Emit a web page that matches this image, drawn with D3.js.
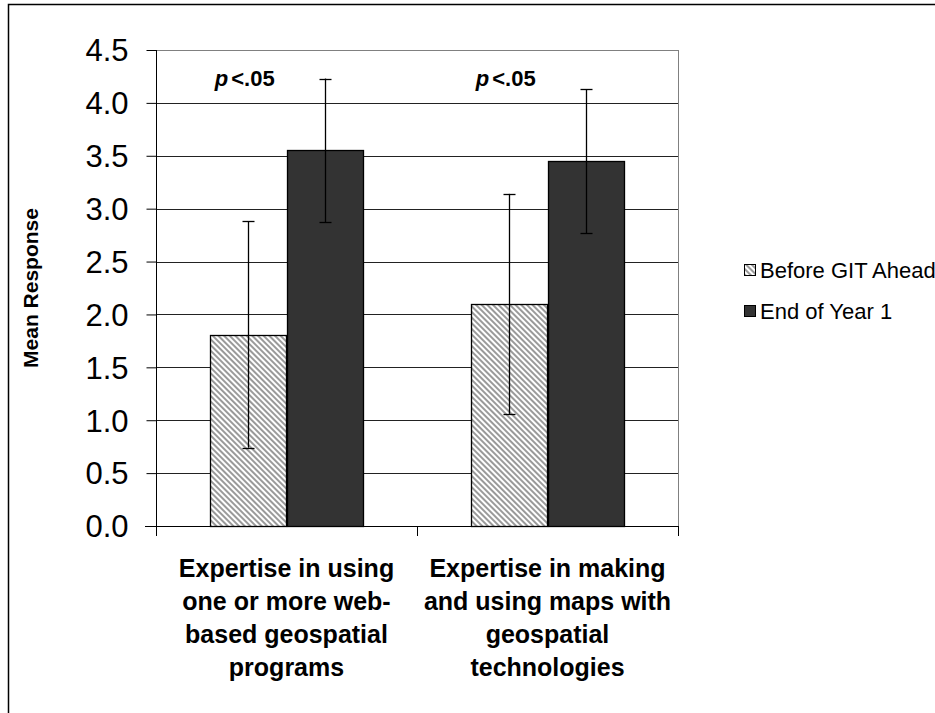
<!DOCTYPE html>
<html>
<head>
<meta charset="utf-8">
<script src="https://cdn.jsdelivr.net/npm/d3@7"></script>
<style>
body { margin: 0; background: #fff; }
svg { display: block; font-family: "Liberation Sans", Arial, sans-serif; }
</style>
</head>
<body>
<div id="chart"></div>
<script>
// data
var categories = [
	["Expertise in using", "one or more web-", "based geospatial", "programs"],
	["Expertise in making", "and using maps with", "geospatial", "technologies"]
];
var seriesNames = ["Before GIT Ahead", "End of Year 1"];
var beforeValues = [1.81, 2.10];
var endValues = [3.55, 3.45];
var beforeErrors = [1.07, 1.04];
var endErrors = [0.68, 0.68];
var yTicks = [0, 0.5, 1.0, 1.5, 2.0, 2.5, 3.0, 3.5, 4.0, 4.5];
var sigLabels = ["<.05", "<.05"];

var width = 935, height = 713;
var plot = { left: 156, right: 678, top: 50, bottom: 526 };

var svg = d3.select("#chart").append("svg")
	.attr("width", width)
	.attr("height", height);

// hatch for the first series
var defs = svg.append("defs");
var pat = defs.append("pattern")
	.attr("id", "hatch")
	.attr("patternUnits", "userSpaceOnUse")
	.attr("width", 4)
	.attr("height", 4)
	.attr("patternTransform", "rotate(-45)");
pat.append("rect").attr("width", 4).attr("height", 4).attr("fill", "#fff");
pat.append("rect").attr("width", 2).attr("height", 4).attr("fill", "#9a9a9a");

// outer frame
svg.append("rect")
	.attr("x", 8.5).attr("y", 4.5)
	.attr("width", 940).attr("height", 720)
	.attr("fill", "none").attr("stroke", "#000").attr("stroke-width", 1.5);

var x0 = d3.scaleBand()
	.domain(d3.range(categories.length))
	.range([plot.left, plot.right]);

var x1 = d3.scaleBand()
	.domain([0, 1])
	.range([0, x0.bandwidth()])
	.paddingInner(0)
	.paddingOuter(0.71);

var y = d3.scaleLinear()
	.domain([0, 4.5])
	.range([plot.bottom, plot.top]);

// gridlines
svg.append("g")
	.selectAll("line")
	.data(yTicks.slice(1))
	.enter()
	.append("line")
	.attr("x1", plot.left).attr("x2", plot.right)
	.attr("y1", function(d) { return Math.round(y(d)) + 0.5; })
	.attr("y2", function(d) { return Math.round(y(d)) + 0.5; })
	.attr("stroke", function(d, i) { return i == yTicks.length - 2 ? "#808080" : "#222"; })
	.attr("stroke-width", 1);

// plot area right border
svg.append("line")
	.attr("x1", plot.right + 0.5).attr("x2", plot.right + 0.5)
	.attr("y1", plot.top).attr("y2", plot.bottom)
	.attr("stroke", "#808080");

var rows = [];
categories.forEach(function(c, i) {
	rows.push({ cat: i, s: 0, v: beforeValues[i], e: beforeErrors[i] });
	rows.push({ cat: i, s: 1, v: endValues[i], e: endErrors[i] });
});

svg.append("g")
	.selectAll("rect")
	.data(rows)
	.enter()
	.append("rect")
	.attr("x", function(d) { return Math.round(x0(d.cat) + x1(d.s)) + 0.5; })
	.attr("y", function(d) { return Math.round(y(d.v)) + 0.5; })
	.attr("width", function(d) { return Math.round(x1.bandwidth()); })
	.attr("height", function(d) { return Math.round(y(0)) - Math.round(y(d.v)); })
	.attr("fill", function(d) { return d.s == 0 ? "url(#hatch)" : "#333333"; })
	.attr("stroke", "#000")
	.attr("stroke-width", 1.3);

// error bars
var eb = svg.append("g")
	.selectAll("g")
	.data(rows)
	.enter()
	.append("g")
	.attr("transform", function(d) { return "translate(" + (Math.round(x0(d.cat) + x1(d.s) + x1.bandwidth() / 2) + 0.5) + ",0)"; });

eb.append("line")
	.attr("y1", function(d) { return y(d.v + d.e); })
	.attr("y2", function(d) { return y(d.v - d.e); })
	.attr("stroke", "#000").attr("stroke-width", 1.3);

eb.selectAll(".cap")
	.data(function(d) { return [d.v + d.e, d.v - d.e]; })
	.enter()
	.append("line")
	.attr("class", "cap")
	.attr("x1", -6).attr("x2", 6)
	.attr("y1", function(v) { return Math.round(y(v)) + 0.5; })
	.attr("y2", function(v) { return Math.round(y(v)) + 0.5; })
	.attr("stroke", "#000").attr("stroke-width", 1.3);

// y axis
svg.append("g")
	.attr("transform", "translate(" + (plot.left + 0.5) + ",0)")
	.call(d3.axisLeft(y).tickValues(yTicks).tickFormat(d3.format(".1f")).tickSize(10).tickPadding(18))
	.call(function(g) {
		g.select(".domain").attr("stroke", "#000").attr("d", "M0," + plot.top + "V" + plot.bottom);
		g.selectAll(".tick line").attr("stroke", "#000");
		g.selectAll("text").attr("font-size", 31).attr("fill", "#000").attr("dy", "0.35em")
			.attr("font-family", "'Liberation Sans', Arial, sans-serif");
	});

// x axis
svg.append("line")
	.attr("x1", plot.left - 11).attr("x2", plot.right)
	.attr("y1", plot.bottom + 0.5).attr("y2", plot.bottom + 0.5)
	.attr("stroke", "#000");

svg.append("g")
	.selectAll("line")
	.data(d3.range(categories.length + 1))
	.enter()
	.append("line")
	.attr("x1", function(i) { return (i < categories.length ? x0(i) : plot.right) + 0.5; })
	.attr("x2", function(i) { return (i < categories.length ? x0(i) : plot.right) + 0.5; })
	.attr("y1", plot.bottom).attr("y2", plot.bottom + 10)
	.attr("stroke", "#000");

// category labels
var catText = svg.append("g")
	.selectAll("text")
	.data(categories)
	.enter()
	.append("text")
	.attr("text-anchor", "middle")
	.attr("font-size", 25)
	.attr("font-weight", "bold")
	.attr("fill", "#000");

catText.selectAll("tspan")
	.data(function(d, i) { return d.map(function(t) { return { t: t, i: i }; }); })
	.enter()
	.append("tspan")
	.attr("x", function(d) { return x0(d.i) + x0.bandwidth() / 2; })
	.attr("y", function(d, j) { return 577 + j * 33; })
	.text(function(d) { return d.t; });

// significance labels
var sig = svg.append("g")
	.selectAll("text")
	.data(sigLabels)
	.enter()
	.append("text")
	.attr("x", function(d, i) { return x0(i) + x0.bandwidth() * 0.34; })
	.attr("y", 86)
	.attr("text-anchor", "middle")
	.attr("font-size", 22)
	.attr("font-weight", "bold")
	.attr("fill", "#000");
sig.append("tspan").attr("font-style", "italic").text("p");
sig.append("tspan").attr("dx", 3).text(function(d) { return d; });

// y title
svg.append("text")
	.attr("transform", "translate(38,288) rotate(-90)")
	.attr("text-anchor", "middle")
	.attr("font-size", 21)
	.attr("font-weight", "bold")
	.attr("fill", "#000")
	.text("Mean Response");

// legend
var lg = svg.append("g")
	.selectAll("g")
	.data(seriesNames)
	.enter()
	.append("g")
	.attr("transform", function(d, i) { return "translate(744," + (264 + i * 41) + ")"; });

lg.append("rect")
	.attr("x", 0.5).attr("y", 0.5)
	.attr("width", 11).attr("height", 11)
	.attr("fill", function(d, i) { return i == 0 ? "url(#hatch)" : "#333333"; })
	.attr("stroke", "#000");

lg.append("text")
	.attr("x", 16)
	.attr("y", 14)
	.attr("font-size", 22)
	.attr("fill", "#000")
	.text(function(d) { return d; });
</script>
</body>
</html>
